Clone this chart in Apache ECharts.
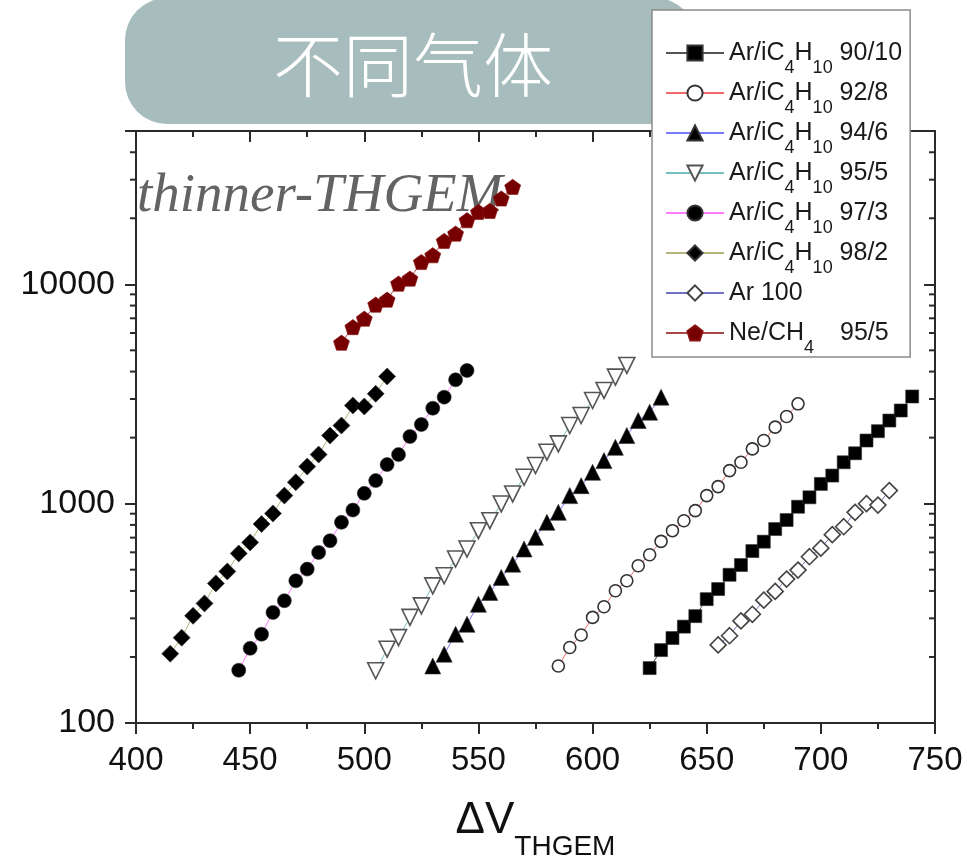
<!DOCTYPE html>
<html>
<head>
<meta charset="utf-8">
<script src="https://cdn.jsdelivr.net/npm/echarts@6/dist/echarts.min.js"></script>
<style>
  html, body { margin: 0; padding: 0; background: #fff; }
  #chart { width: 967px; height: 857px; }
</style>
</head>
<body>
<div id="chart"></div>
<script>
// THGEM effective gain vs. applied voltage for different gas mixtures

// Axis range and labelled decades
const xMin = 400, xMax = 750, xStep = 50;
const yMin = 100, yMax = 50000;
const yTickLabels = [100, 1000, 10000];
const yMinorTicks = [200, 300, 400, 500, 600, 700, 800, 900,
                     2000, 3000, 4000, 5000, 6000, 7000, 8000, 9000,
                     20000, 30000, 40000];

// Series names (legend order)
const seriesNames = [
  'Ar/iC4H10 90/10', 'Ar/iC4H10 92/8', 'Ar/iC4H10 94/6', 'Ar/iC4H10 95/5',
  'Ar/iC4H10 97/3', 'Ar/iC4H10 98/2', 'Ar 100', 'Ne/CH4 95/5'
];

// ΔV_THGEM (V) and gain for each mixture
const volt9010 = [625,630,635,640,645,650,655,660,665,670,675,680,685,690,695,700,705,710,715,720,725,730,735,740];
const gain9010 = [178,215,244,275,307,367,408,474,525,608,671,766,842,968,1069,1230,1343,1544,1697,1940,2140,2393,2659,3080];

const volt928 = [585,590,595,600,605,610,615,620,625,630,635,640,645,650,655,660,665,670,675,680,685,690];
const gain928 = [182,221,252,303,339,401,445,521,585,673,753,836,929,1088,1196,1415,1544,1777,1940,2232,2497,2852];

const volt946 = [530,535,540,545,550,555,560,565,570,575,580,585,590,595,600,605,610,615,620,625,630];
const gain946 = [182,206,254,282,348,394,461,530,621,702,822,913,1088,1208,1390,1572,1807,2044,2393,2612,3059];

const volt955 = [505,510,515,520,525,530,535,540,545,550,555,560,565,570,575,580,585,590,595,600,605,610,615];
const gain955 = [173,217,245,303,342,422,469,559,621,753,836,997,1107,1319,1492,1716,1873,2271,2522,2953,3281,3774,4267];

const volt973 = [445,450,455,460,465,470,475,480,485,490,495,500,505,510,515,520,525,530,535,540,545];
const gain973 = [174,219,254,319,361,445,503,599,678,822,935,1114,1274,1507,1674,2023,2295,2724,3059,3670,4048];

const volt982 = [415,420,425,430,435,440,445,450,455,460,465,470,475,480,485,490,495,500,505,510];
const gain982 = [207,245,308,351,433,491,593,666,807,903,1088,1252,1476,1674,2044,2271,2803,2773,3170,3801];

const voltAr100 = [655,660,665,670,675,680,685,690,695,700,705,710,715,720,725,730];
const gainAr100 = [227,250,292,313,363,398,453,498,573,627,722,785,913,1000,985,1147];

const voltNe = [490,495,500,505,510,515,520,525,530,535,540,545,550,555,560,565];
const gainNe = [5416,6383,6970,8076,8511,10070,10620,12640,13570,15770,17030,19600,21380,21620,24620,27820];

const pairs = (xs, ys) => xs.map((x, i) => [x, ys[i]]);

const pentagon = 'path://M0,-1 L0.951,-0.309 L0.588,0.809 L-0.588,0.809 L-0.951,-0.309 Z';

function gasSeries(name, xs, ys, symbol, size, fill, border, lineColor, extra) {
  return Object.assign({
    name: name,
    type: 'line',
    data: pairs(xs, ys),
    symbol: symbol,
    symbolSize: size,
    showSymbol: true,
    lineStyle: { color: lineColor, width: 1 },
    itemStyle: { color: fill, borderColor: border, borderWidth: fill === '#fff' ? 1.6 : 0.6, opacity: 1 },
    emphasis: { disabled: true },
    z: 3
  }, extra || {});
}

const series = [
  gasSeries(seriesNames[0], volt9010, gain9010, 'rect', 13, '#000', '#333', '#555'),
  gasSeries(seriesNames[1], volt928, gain928, 'circle', 12, '#fff', '#333', '#f06a6a'),
  gasSeries(seriesNames[2], volt946, gain946, 'triangle', 16, '#000', '#333', '#7a7aff'),
  gasSeries(seriesNames[3], volt955, gain955, 'triangle', 16, '#fff', '#555', '#78c0c0', { symbolRotate: 180 }),
  gasSeries(seriesNames[4], volt973, gain973, 'circle', 14, '#000', '#333', '#ff7cff'),
  gasSeries(seriesNames[5], volt982, gain982, 'diamond', 17, '#000', '#333', '#b4b47c'),
  gasSeries(seriesNames[6], voltAr100, gainAr100, 'diamond', 16, '#fff', '#444', '#7272c4'),
  gasSeries(seriesNames[7], voltNe, gainNe, pentagon, 16, '#760000', '#8a1010', '#a84848', { symbolKeepAspect: true }),
  // log-scale minor ticks on the left (outward) and right (inward) frame edges
  {
    type: 'custom',
    silent: true,
    clip: false,
    z: 5,
    encode: { x: 0, y: 1 },
    data: yMinorTicks.map(v => [xMin, v]),
    renderItem: function (params, api) {
      const v = api.value(1);
      const pl = api.coord([xMin, v]);
      const pr = api.coord([xMax, v]);
      const st = { stroke: '#2a2a2a', lineWidth: 2 };
      return {
        type: 'group',
        children: [
          { type: 'line', shape: { x1: pl[0] - 6, y1: pl[1], x2: pl[0], y2: pl[1] }, style: st },
          { type: 'line', shape: { x1: pr[0] - 6, y1: pr[1], x2: pr[0], y2: pr[1] }, style: st }
        ]
      };
    }
  }
];

function legendLabel(name) {
  if (name.indexOf('C4H10') >= 0) {
    return name.replace('C4H10', 'C{s|4}H{s|10}');
  }
  if (name.indexOf('CH4') >= 0) {
    return name.replace('CH4 ', 'CH{s|4}{g| }');
  }
  return name;
}

const axisColor = '#2a2a2a';
const labelFont = 'Liberation Sans, Arial, sans-serif';

const chart = echarts.init(document.getElementById('chart'), null, { renderer: 'canvas' });

chart.setOption({
  animation: false,
  backgroundColor: '#fff',
  grid: { left: 136, right: 32, top: 131, bottom: 134, containLabel: false, outerBoundsMode: 'none' },
  xAxis: [
    {
      type: 'value', min: xMin, max: xMax, interval: xStep, position: 'bottom',
      axisLine: { lineStyle: { color: axisColor, width: 2 } },
      axisTick: { length: 11, lineStyle: { color: axisColor, width: 2 } },
      minorTick: { show: true, splitNumber: 2, length: 6, lineStyle: { color: axisColor, width: 2 } },
      splitLine: { show: false },
      axisLabel: { fontSize: 33, color: '#111', fontFamily: labelFont, margin: 21 },
      name: '{d|ΔV}{s|THGEM}',
      nameLocation: 'middle',
      nameGap: 58,
      nameTextStyle: {
        color: '#111', fontFamily: labelFont,
        rich: {
          d: { fontSize: 44, lineHeight: 80, fontFamily: labelFont, color: '#111' },
          s: { fontSize: 28, lineHeight: 18, verticalAlign: 'bottom', fontFamily: labelFont, color: '#111' }
        }
      }
    },
    {
      type: 'value', min: xMin, max: xMax, interval: xStep, position: 'top',
      axisLine: { lineStyle: { color: axisColor, width: 2 } },
      axisTick: { inside: true, length: 11, lineStyle: { color: axisColor, width: 2 } },
      minorTick: { show: true, splitNumber: 2, length: 6, lineStyle: { color: axisColor, width: 2 } },
      splitLine: { show: false },
      axisLabel: { show: false }
    }
  ],
  yAxis: [
    {
      type: 'log', logBase: 10, min: yMin, max: yMax, position: 'left',
      axisLine: { lineStyle: { color: axisColor, width: 2 } },
      axisTick: { length: 11, lineStyle: { color: axisColor, width: 2 } },
      splitLine: { show: false },
      axisLabel: {
        fontSize: 34, color: '#111', fontFamily: labelFont, margin: 21,
        formatter: function (v) {
          const hit = yTickLabels.find(t => Math.abs(t - v) / t < 1e-6);
          return hit ? String(hit) : '';
        }
      }
    },
    {
      type: 'log', logBase: 10, min: yMin, max: yMax, position: 'right',
      axisLine: { lineStyle: { color: axisColor, width: 2 } },
      axisTick: { inside: true, length: 11, lineStyle: { color: axisColor, width: 2 } },
      splitLine: { show: false },
      axisLabel: { show: false }
    }
  ],
  legend: {
    orient: 'vertical',
    left: 652,
    top: 10,
    padding: [19, 8, 0, 13],
    itemGap: -8,
    itemWidth: 58,
    itemHeight: 19,
    backgroundColor: '#fff',
    borderColor: '#8a8a8a',
    borderWidth: 1.5,
    borderRadius: 0,
    selectedMode: false,
    data: seriesNames,
    formatter: legendLabel,
    textStyle: {
      fontSize: 25, color: '#1a1a1a', fontFamily: labelFont, lineHeight: 48,
      rich: {
        s: { fontSize: 18, lineHeight: 2, verticalAlign: 'bottom', color: '#1a1a1a', fontFamily: labelFont },
        g: { width: 26, fontSize: 25, fontFamily: labelFont }
      }
    }
  },
  graphic: [
    {
      type: 'text',
      z: 1,
      silent: true,
      style: {
        text: 'thinner-THGEM',
        x: 137,
        y: 197,
        verticalAlign: 'middle',
        align: 'left',
        fill: '#636363',
        fontSize: 55,
        fontStyle: 'italic',
        fontFamily: 'Liberation Serif, DejaVu Serif, serif'
      }
    },
    {
      type: 'group',
      z: 100,
      silent: true,
      children: [
        {
          type: 'rect',
          shape: { x: 125, y: -2, width: 572, height: 126, r: 42 },
          style: { fill: '#a7bcbc' }
        },
        {
          type: 'text',
          style: {
            text: '不同气体',
            x: 413,
            y: 65,
            align: 'center',
            verticalAlign: 'middle',
            fill: '#ffffff',
            fontSize: 70,
            fontWeight: 300,
            fontFamily: '"Noto Sans CJK SC", sans-serif'
          }
        }
      ]
    }
  ],
  series: series
});
</script>
</body>
</html>
